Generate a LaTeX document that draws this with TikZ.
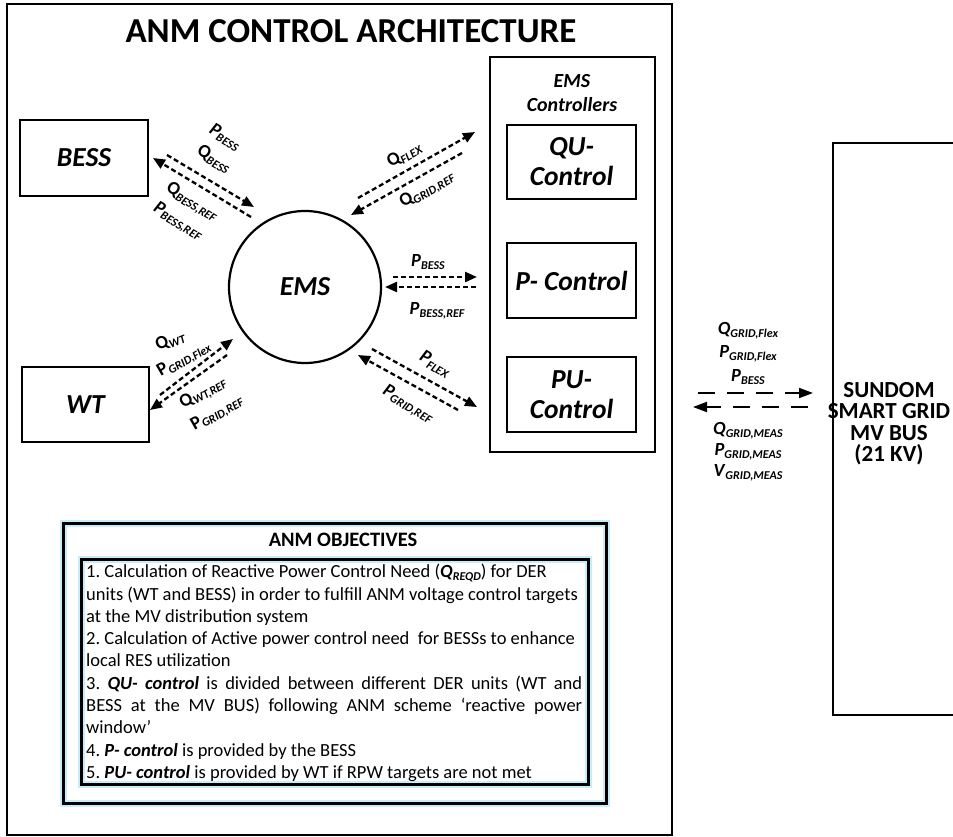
\documentclass[tikz,border=0pt]{standalone}
\usepackage{fontspec}
\setmainfont{Carlito}
\usetikzlibrary{arrows.meta}

\newcommand{\lowidx}[1]{\raisebox{-0.35ex}{\fontsize{12}{12}\selectfont\bfseries\itshape #1}}

\tikzset{
  unit/.style={draw, line width=2.2pt, align=center, inner sep=0pt, font=\fontsize{27.5}{30}\selectfont\bfseries\itshape},
  sig/.style={inner sep=0pt, font=\fontsize{18.5}{20}\selectfont\bfseries},
  flow/.style={line width=2.3pt, dash pattern=on 5pt off 3pt, -{Triangle[length=12pt,width=10pt]}},
  link/.style={line width=2pt, dash pattern=on 17pt off 12pt, -{Triangle[length=14pt,width=10pt]}},
  frame/.style={line width=2pt},
  glow/.style={draw=cyan!22!white, line width=7pt},
  heavy/.style={line width=3pt}
}

\begin{document}
\begin{tikzpicture}[x=1pt, y=-1pt]

	\useasboundingbox (0,0) rectangle (953,837);
	\fill[white] (0,0) rectangle (953,837);

	\draw[frame] (7,4) rectangle (672,835);
	\draw (351, 31) node (title) [font=\fontsize{35}{37}\selectfont\bfseries] {ANM CONTROL ARCHITECTURE};

	\draw[frame] (490,57) rectangle (655,452);
	\draw (572, 81) node (ctrlhead) [font=\fontsize{20}{22}\selectfont\bfseries\itshape] {EMS};
	\draw (572, 105) node (ctrlsub) [font=\fontsize{20}{22}\selectfont\bfseries\itshape] {Controllers};

	\draw (84, 158) node (bess) [unit, minimum width=128pt, minimum height=76pt] {BESS};
	\draw (85.5, 404.5) node (wt) [unit, minimum width=127pt, minimum height=75pt] {WT};
	\draw (305, 287) node (ems) [unit, circle, minimum size=152pt] {EMS};

	\draw (571.5, 162) node (qu) [unit, minimum width=129pt, minimum height=74pt] {QU-\\Control};
	\draw (571.5, 280.5) node (pc) [unit, minimum width=129pt, minimum height=75pt] {P- Control};
	\draw (571.5, 394.5) node (pu) [unit, minimum width=129pt, minimum height=75pt] {PU-\\Control};

	% arrow ends
	\coordinate (b1s) at (167,155);  \coordinate (b1e) at (254,207);
	\coordinate (b2s) at (251,217);  \coordinate (b2e) at (153,158);
	\coordinate (q1s) at (358,198);  \coordinate (q1e) at (475,132);
	\coordinate (q2s) at (462,153);  \coordinate (q2e) at (351,215);
	\coordinate (p1s) at (393,277);  \coordinate (p1e) at (477,277);
	\coordinate (p2s) at (476,287);  \coordinate (p2e) at (385,287);
	\coordinate (u1s) at (372,349);  \coordinate (u1e) at (477,407);
	\coordinate (u2s) at (458,410);  \coordinate (u2e) at (358,355);
	\coordinate (w1s) at (160,395);  \coordinate (w1e) at (233,339);
	\coordinate (w2s) at (227,355);  \coordinate (w2e) at (150,410);
	\coordinate (g1s) at (698,393);  \coordinate (g1e) at (813,393);
	\coordinate (g2s) at (808,407);  \coordinate (g2e) at (693,407);

	\draw[flow] (b1s) -- (b1e);
	\draw[flow] (b2s) -- (b2e);
	\draw[flow] (q1s) -- (q1e);
	\draw[flow] (q2s) -- (q2e);
	\draw[flow] (p1s) -- (p1e);
	\draw[flow] (p2s) -- (p2e);
	\draw[flow] (u1s) -- (u1e);
	\draw[flow] (u2s) -- (u2e);
	\draw[flow] (w1s) -- (w1e);
	\draw[flow] (w2s) -- (w2e);
	\draw[link] (g1s) -- (g1e);
	\draw[link] (g2s) -- (g2e);

	\draw (225, 137) node (bp) [sig, rotate=-31] {\textit{P}\lowidx{BESS}};
	\draw (214, 159) node (bq) [sig, rotate=-31] {Q\lowidx{BESS}};
	\draw (192, 202) node (bqr) [sig, rotate=-31] {Q\lowidx{BESS,REF}};
	\draw (178, 221) node (bpr) [sig, rotate=-31] {\textit{P}\lowidx{BESS,REF}};

	\draw (404, 155) node (qf) [sig, rotate=30] {Q\lowidx{FLEX}};
	\draw (427, 190) node (qgr) [sig, rotate=30] {Q\lowidx{GRID,REF}};

	\draw (428, 262) node (pb) [sig] {\textit{P}\lowidx{BESS}};
	\draw (437, 311) node (pbr) [sig] {\textit{P}\lowidx{BESS,REF}};

	\draw (435, 364) node (pf) [sig, rotate=-30] {\textit{P}\lowidx{FLEX}};
	\draw (408, 404) node (pgr) [sig, rotate=-30] {\textit{P}\lowidx{GRID,REF}};

	\draw (170, 341) node (wq) [sig, rotate=22] {Q\lowidx{WT}};
	\draw (184, 359) node (wpf) [sig, rotate=30] {P\lowidx{GRID,Flex}};
	\draw (203, 393) node (wqr) [sig, rotate=30] {Q\lowidx{WT,REF}};
	\draw (217, 413) node (wpr) [sig, rotate=30] {P\lowidx{GRID,REF}};

	\draw (748, 331) node (gqf) [sig] {\textit{Q}\lowidx{GRID,Flex}};
	\draw (748, 354) node (gpf) [sig] {\textit{P}\lowidx{GRID,Flex}};
	\draw (748, 377) node (gpb) [sig] {\textit{P}\lowidx{BESS}};
	\draw (748, 431) node (gqm) [sig] {\textit{Q}\lowidx{GRID,MEAS}};
	\draw (748, 452) node (gpm) [sig] {\textit{P}\lowidx{GRID,MEAS}};
	\draw (748, 473) node (gvm) [sig] {\textit{V}\lowidx{GRID,MEAS}};

	\draw[frame, line width=2.5pt] (956,143) -| (833,715) -- (956,715);
	\draw (889, 423.5) node (bus) [align=center, font=\fontsize{23}{21.5}\selectfont\bfseries] {SUNDOM\\SMART GRID\\MV BUS\\(21 KV)};

	% objectives
	\draw[glow] (63,523) rectangle (606,803);
	\draw[heavy] (63,523) rectangle (606,803);
	\draw[glow] (81,559) rectangle (588,784);
	\draw[heavy] (81,559) rectangle (588,784);
	\draw (343, 540) node (objhead) [font=\fontsize{20.5}{21}\selectfont\bfseries] {ANM OBJECTIVES};
	\draw (86, 564) node (objtext) [anchor=north west, inner sep=0pt, text width=496pt, align=justify, font=\fontsize{18.5}{22.3}\selectfont\frenchspacing] {%
1. Calculation of Reactive Power Control Need (\textbf{\textit{Q}}\lowidx{REQD}) for DER\\
units (WT and BESS) in order to fulfill ANM voltage control targets\\
at the MV distribution system\\
2. Calculation of Active power control need\ \ for BESSs to enhance\\
local RES utilization\\
3. \textbf{\textit{QU- control}} is divided between different DER units (WT and\linebreak
BESS at the MV BUS) following ANM scheme ‘reactive power\linebreak
window’\\
4. \textbf{\textit{P- control}} is provided by the BESS\\
5. \textbf{\textit{PU- control}} is provided by WT if RPW targets are not met};

\end{tikzpicture}
\end{document}
